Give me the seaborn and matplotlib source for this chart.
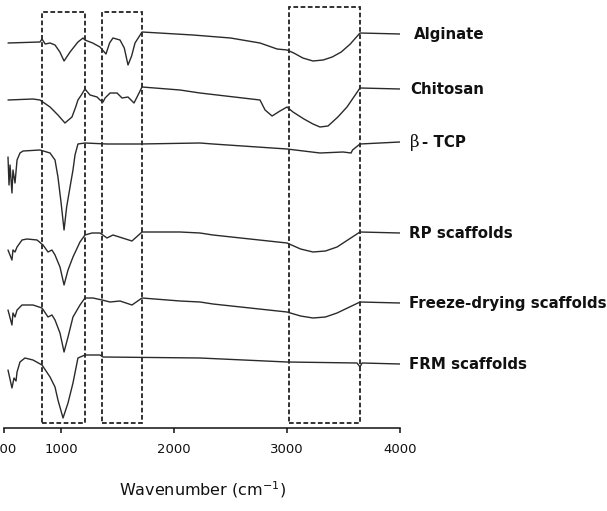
import pandas as pd
import matplotlib.pyplot as plt
import matplotlib.patches as patches
import seaborn as sns

# ---- DATA ----
samples = ["Alginate", "Chitosan", "β - TCP", "RP scaffolds",
           "Freeze-drying scaffolds", "FRM scaffolds"]

# vertical stacking offset for each spectrum (a.u.)
offsets = [394, 339, 286, 195, 125, 64]

alginate_wn = [531, 814, 832, 860, 903, 947, 990, 1027, 1080, 1150, 1195, 1212, 1280, 1345,
               1398, 1430, 1460, 1522, 1560, 1593, 1625, 1655, 1717, 2168, 2500, 2761, 2912,
               3000, 3060, 3140, 3230, 3320, 3400, 3480, 3560, 3646, 4000]
alginate_t = [-9, -8, -5, -10, -9, -11, -18, -27, -18, -8, -4, -6, -9, -13,
              -20, -9, -4, -6, -14, -31, -22, -9, 2, -1, -4, -9, -15,
              -16, -19, -24, -27, -26, -23, -18, -10, 1, 0]

chitosan_wn = [531, 752, 814, 903, 973, 1035, 1097, 1130, 1150, 1180, 1212, 1257, 1319, 1345,
               1372, 1390, 1434, 1496, 1540, 1593, 1646, 1673, 1717, 2053, 2230, 2761, 2806,
               2868, 2938, 3000, 3053, 3150, 3230, 3292, 3363, 3450, 3531, 3646, 4000]
chitosan_t = [-11, -10, -11, -18, -26, -34, -28, -18, -11, -6, 0, -6, -8, -11,
              -13, -9, -4, -4, -9, -8, -14, -8, 2, -1, -4, -11, -21,
              -27, -22, -18, -23, -30, -35, -38, -37, -28, -18, 1, 0]

tcp_wn = [531, 540, 549, 566, 575, 593, 611, 637, 664, 814, 903, 947, 973, 1000,
          1027, 1050, 1080, 1106, 1124, 1150, 1212, 1407, 1699, 2230, 2345, 3000,
          3292, 3496, 3567, 3580, 3646, 4000]
tcp_t = [-15, -43, -23, -51, -28, -41, -18, -11, -9, -8, -11, -18, -35, -60,
         -88, -65, -45, -28, -13, -2, -1, -2, -2, -1, -2, -7,
         -11, -10, -11, -8, -2, 0]

rp_wn = [531, 566, 575, 593, 611, 655, 699, 788, 841, 885, 920, 947, 991, 1027,
         1062, 1106, 1168, 1212, 1274, 1345, 1407, 1460, 1628, 1717, 2053, 2230,
         2345, 3000, 3120, 3230, 3340, 3443, 3646, 4000]
rp_t = [-17, -27, -17, -19, -14, -7, -6, -7, -12, -19, -17, -22, -34, -52,
        -37, -24, -9, -2, 0, 0, -5, -2, -8, 1, 1, 0,
        -2, -10, -16, -19, -18, -14, 1, 0]

fd_wn = [531, 566, 575, 593, 611, 655, 752, 832, 885, 920, 947, 991, 1027, 1062,
         1106, 1168, 1212, 1283, 1363, 1434, 1522, 1628, 1717, 2053, 2230, 2345,
         3000, 3120, 3230, 3340, 3443, 3646, 4000]
fd_t = [-7, -22, -10, -14, -7, -2, -2, -5, -14, -12, -17, -30, -49, -34,
        -14, -2, 5, 5, 3, 1, 2, -2, 5, 2, 1, -1,
        -9, -13, -15, -14, -10, 1, 0]

frm_wn = [531, 566, 584, 602, 611, 637, 681, 752, 832, 903, 947, 973, 1018, 1062,
          1106, 1150, 1212, 1345, 1372, 2230, 3000, 3620, 3646, 3664, 4000]
frm_t = [-6, -24, -14, -17, -8, 2, 6, 4, -1, -13, -23, -36, -54, -39,
         -19, 6, 9, 9, 7, 6, 2, 1, -3, 1, 0]

spectra_wn = [alginate_wn, chitosan_wn, tcp_wn, rp_wn, fd_wn, frm_wn]
spectra_t = [alginate_t, chitosan_t, tcp_t, rp_t, fd_t, frm_t]

# highlighted wavenumber regions (dashed boxes)
region_lo = [830, 1366, 3019]
region_hi = [1215, 1720, 3647]

x_ticks = [500, 1000, 2000, 3000, 4000]

# ---- Build long table ----
rows = []
for name, off, wn, t in zip(samples, offsets, spectra_wn, spectra_t):
    for w, v in zip(wn, t):
        rows.append({"Wavenumber": w, "T": off + v, "Sample": name})
df = pd.DataFrame(rows)

# ---- Plot ----
sns.set_style("white")
plt.rcParams["font.family"] = ["DejaVu Sans"]

fig = plt.figure(figsize=(6.07, 5.11), dpi=100)
ax = fig.add_axes([4.5 / 607, 83 / 511, 395.5 / 607, 428 / 511])

sns.lineplot(data=df, x="Wavenumber", y="T", hue="Sample",
             palette=["#2a2a2a"] * len(samples), estimator=None, sort=False,
             linewidth=1.0, legend=False, ax=ax)

# dashed boxes
box_bottom = [5, 5, 5]
box_top = [416, 416, 421]
for lo, hi, b, t in zip(region_lo, region_hi, box_bottom, box_top):
    ax.add_patch(patches.Rectangle((lo, b), hi - lo, t - b, fill=False,
                                   edgecolor="#222222", linewidth=1.3,
                                   linestyle=(0, (2.6, 1.4))))

# labels on the right
label_x = [4120, 4095, 4085, 4080, 4080, 4080]
for name, off, lx in zip(samples, offsets, label_x):
    if name.startswith("β"):
        ax.text(lx, off, "β", fontsize=12, family="DejaVu Serif", va="center",
                ha="left", clip_on=False, color="#111111")
        ax.annotate(name[1:].strip(), xy=(lx, off), xytext=(9, 0),
                    textcoords="offset points", fontsize=10.8, fontweight="bold",
                    va="center", ha="left", annotation_clip=False, color="#111111")
    else:
        ax.text(lx, off, name, fontsize=10.8, fontweight="bold", va="center",
                ha="left", clip_on=False, color="#111111")

ax.set_xlim(500, 4000)
ax.set_ylim(0, 428)
ax.set_xticks(x_ticks)
ax.set_yticks([])
ax.set_ylabel("")
ax.set_xlabel("Wavenumber (cm$^{-1}$)", fontsize=11.5, labelpad=17, color="#111111")
for s in ["top", "right", "left"]:
    ax.spines[s].set_visible(False)
ax.spines["bottom"].set_color("#111111")
ax.spines["bottom"].set_linewidth(1.1)
ax.tick_params(axis="x", direction="out", length=3.8, width=1.1,
               labelsize=9.5, pad=7, colors="#111111", bottom=True)

fig.savefig("out.png", dpi=100)
plt.close(fig)
